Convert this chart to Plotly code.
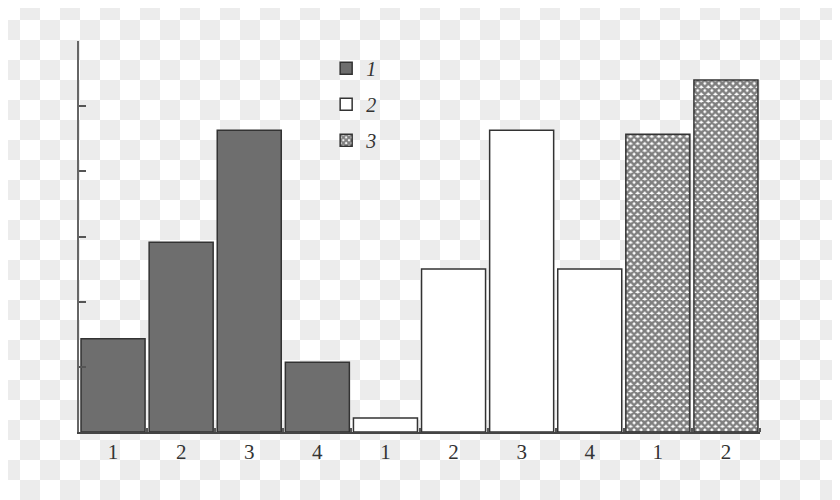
import base64
import plotly.graph_objects as go

# bar heights (axis unit = one tick step)
series_names = ["1", "2", "3"]
series1_values = [1.43, 2.91, 4.63, 1.07]
series2_values = [0.215, 2.50, 4.63, 2.50]
series3_values = [4.57, 5.40]
tick_labels = ["1", "2", "3", "4", "1", "2", "3", "4", "1", "2"]

# page body has an 8px margin, so the figure is a bit smaller than the window
W, H = 832, 492
ML, MR, MT, MB = 71, 80, 33, 68
pw, ph = W - ML - MR, H - MT - MB

pos = list(range(len(tick_labels)))
x1 = pos[0:4]
x2 = pos[4:8]
x3 = pos[8:10]

line = dict(color="#333333", width=1.5)

fig = go.Figure()
fig.add_trace(go.Bar(x=x1, y=series1_values, name=series_names[0], legendgroup="a",
                     marker=dict(color="#6e6e6e", line=line)))
fig.add_trace(go.Bar(x=x2, y=series2_values, name=series_names[1], legendgroup="b",
                     marker=dict(color="white", line=line)))
fig.add_trace(go.Bar(x=x3, y=series3_values, name=series_names[2], legendgroup="c",
                     marker=dict(color="white", line=line,
                                 pattern=dict(shape="x", size=5, solidity=0.75,
                                              fgcolor="#000000", bgcolor="white",
                                              fillmode="overlay"))))

# transparent-looking checkerboard behind the figure
svg = ('<svg xmlns="http://www.w3.org/2000/svg" width="%d" height="%d">'
       '<defs><pattern id="p" x="32" y="32" width="40" height="40" patternUnits="userSpaceOnUse">'
       '<rect width="40" height="40" fill="#ffffff"/>'
       '<rect x="20" y="0" width="20" height="20" fill="#ececec"/>'
       '<rect x="0" y="20" width="20" height="20" fill="#ececec"/>'
       '</pattern></defs><rect width="%d" height="%d" fill="url(#p)"/></svg>') % (W, H, W, H)
src = "data:image/svg+xml;base64," + base64.b64encode(svg.encode()).decode()

fig.update_layout(
    width=W, height=H,
    margin=dict(l=ML, r=MR, t=MT, b=MB),
    paper_bgcolor="rgba(0,0,0,0)",
    plot_bgcolor="white",
    bargap=0.06,
    font=dict(family="Liberation Serif", color="#333333"),
    images=[dict(source=src, xref="paper", yref="paper",
                 x=-ML / pw, y=1 + MT / ph, sizex=W / pw, sizey=H / ph,
                 xanchor="left", yanchor="top", sizing="stretch", layer="below")],
    legend=dict(x=0.36 + 2 / pw, y=0.97 + 4 / ph, xanchor="left", yanchor="top",
                bgcolor="rgba(0,0,0,0)", traceorder="grouped", tracegroupgap=7,
                font=dict(family="Liberation Serif", size=20, style="italic", color="#333333")),
    xaxis=dict(range=[-0.5, 9.5], tickvals=pos, ticktext=tick_labels,
               ticks="", showgrid=False, zeroline=False,
               showline=True, linecolor="#444444", linewidth=2,
               tickfont=dict(size=21, color="#333333"),
               minor=dict(tickvals=[p + 0.5 for p in pos], ticks="inside",
                          ticklen=4, tickcolor="#555555", tickwidth=1.5)),
    yaxis=dict(range=[0, 6], dtick=1, ticks="inside", ticklen=7, tickwidth=2,
               tickcolor="#555555", showticklabels=False, showgrid=False,
               zeroline=False, showline=True, linecolor="#666666", linewidth=2),
)

fig.write_html("out.html")
